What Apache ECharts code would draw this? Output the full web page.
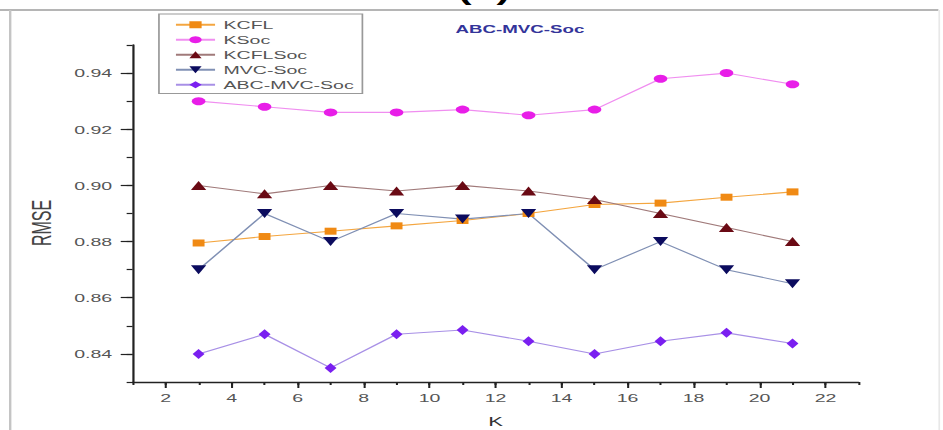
<!DOCTYPE html>
<html>
<head>
<meta charset="utf-8">
<script src="https://cdn.jsdelivr.net/npm/echarts@6/dist/echarts.min.js"></script>
<style>
html,body{margin:0;padding:0;background:#fff;}
#wrap{width:943px;height:430px;overflow:hidden;position:relative;background:#fff;}
#main{width:555px;height:430px;transform:scaleX(1.7);transform-origin:0 0;}
</style>
</head>
<body>
<div id="wrap"><div id="main"></div></div>
<script>
// ---- data ----
var kValues   = [3, 5, 7, 9, 11, 13, 15, 17, 19, 21];
var kcfl      = [0.8795, 0.8818, 0.8837, 0.8856, 0.8875, 0.8900, 0.8932, 0.8937, 0.8958, 0.8977];
var ksoc      = [0.930, 0.928, 0.926, 0.926, 0.927, 0.925, 0.927, 0.938, 0.940, 0.936];
var kcflSoc   = [0.900, 0.897, 0.900, 0.898, 0.900, 0.898, 0.895, 0.890, 0.885, 0.880];
var mvcSoc    = [0.870, 0.890, 0.880, 0.890, 0.888, 0.890, 0.870, 0.880, 0.870, 0.865];
var abcMvcSoc = [0.840, 0.847, 0.835, 0.847, 0.8485, 0.8445, 0.840, 0.8445, 0.8475, 0.8437];
var xTickLabels = [2, 4, 6, 8, 10, 12, 14, 16, 18, 20, 22];
var yTickLabels = [0.84, 0.86, 0.88, 0.90, 0.92, 0.94];
var seriesNames = ['KCFL', 'KSoc', 'KCFLSoc', 'MVC-Soc', 'ABC-MVC-Soc'];

function pairs(ys){ return kValues.map(function(k,i){ return [k, ys[i]]; }); }

var chart = echarts.init(document.getElementById('main'), null, {renderer:'svg'});
var FONT = 'Liberation Sans';
var axisColor = '#222';

function mk(name, ys, symbol, size, markerColor, lineColor, rot){
  return {
    name: name, type: 'line', data: pairs(ys),
    symbol: symbol, symbolSize: size, symbolRotate: rot || 0,
    showAllSymbol: true,
    itemStyle: {color: markerColor},
    lineStyle: {color: lineColor, width: 1.1},
    emphasis: {disabled: true}
  };
}

var option = {
  animation: false,
  backgroundColor: '#fff',
  title: {
    text: 'ABC-MVC-Soc', left: 268, top: 24, padding: 0,
    textStyle: {color: '#33349a', fontSize: 11, fontWeight: 'bold', fontFamily: FONT}
  },
  legend: {
    orient: 'vertical', left: 93.5, top: 14,
    padding: [4, 5, 2, 9],
    itemWidth: 23, itemHeight: 9, itemGap: 1.5,
    borderColor: '#999', borderWidth: 1,
    textStyle: {color: '#555', fontSize: 11.5, fontFamily: FONT, lineHeight: 13.5},
    data: seriesNames
  },
  grid: {left: 78, right: 50, top: 45, bottom: 48, containLabel: false, outerBoundsMode: 'none'},
  xAxis: [{
    type: 'value', min: 1, max: 23, position: 'bottom',
    name: 'K', nameLocation: 'middle', nameGap: 33,
    nameTextStyle: {color: '#333', fontSize: 13, fontFamily: FONT},
    axisLine: {show: true, onZero: false, lineStyle: {color: axisColor, width: 1.3}},
    axisTick: {show: true, customValues: xTickLabels, length: 6, lineStyle: {color: axisColor, width: 1.2}},
    axisLabel: {customValues: xTickLabels, margin: 10, color: '#555', fontSize: 11.5, fontFamily: FONT},
    splitLine: {show: false}
  }, {
    type: 'value', min: 1, max: 23, interval: 1, position: 'bottom',
    axisLine: {show: false},
    axisTick: {show: true, length: 3, lineStyle: {color: axisColor, width: 1.2}},
    axisLabel: {show: false},
    splitLine: {show: false}
  }],
  yAxis: [{
    type: 'value', min: 0.83, max: 0.95, position: 'left',
    name: 'RMSE', nameLocation: 'middle', nameGap: 42,
    nameTextStyle: {color: '#444', fontSize: 16, fontFamily: FONT, padding: [0, 19, 0, 0]},
    axisLine: {show: true, onZero: false, lineStyle: {color: axisColor, width: 1.3}},
    axisTick: {show: true, customValues: yTickLabels, length: 7, lineStyle: {color: axisColor, width: 1.2}},
    axisLabel: {customValues: yTickLabels, margin: 12, color: '#555', fontSize: 11.5, fontFamily: FONT,
      formatter: function(v){ return v.toFixed(2); }},
    splitLine: {show: false}
  }, {
    type: 'value', min: 0.83, max: 0.95, interval: 0.01, position: 'left',
    axisLine: {show: false},
    axisTick: {show: true, length: 3.5, lineStyle: {color: axisColor, width: 1.2}},
    axisLabel: {show: false},
    splitLine: {show: false}
  }],
  graphic: [
    {type: 'line', shape: {x1: 0, y1: 10, x2: 552, y2: 10}, style: {stroke: '#b5b5b5', lineWidth: 2}, silent: true},
    {type: 'line', shape: {x1: 6, y1: 10, x2: 6, y2: 430}, style: {stroke: '#c4c4c4', lineWidth: 1.4}, silent: true},
    {type: 'line', shape: {x1: 552.5, y1: 10, x2: 552.5, y2: 430}, style: {stroke: '#e8e8e8', lineWidth: 1}, silent: true},
    {type: 'text', x: 284.7, y: 4, silent: true,
      style: {text: '(b)', font: 'bold 24px Liberation Sans', fill: '#000', textAlign: 'center', textVerticalAlign: 'bottom', verticalAlign: 'bottom'}}
  ],
  series: [
    mk('KCFL', kcfl, 'rect', 7, '#f08a14', '#f4a640'),
    mk('KSoc', ksoc, 'circle', 8, '#e81ee8', '#f08ef0'),
    mk('KCFLSoc', kcflSoc, 'triangle', 9, '#6a0a14', '#a07a7a'),
    mk('MVC-Soc', mvcSoc, 'triangle', 9, '#0b0b5e', '#8090b4', 180),
    mk('ABC-MVC-Soc', abcMvcSoc, 'diamond', [7, 10], '#7a1ff0', '#a890e6')
  ]
};
chart.setOption(option);
</script>
</body>
</html>
